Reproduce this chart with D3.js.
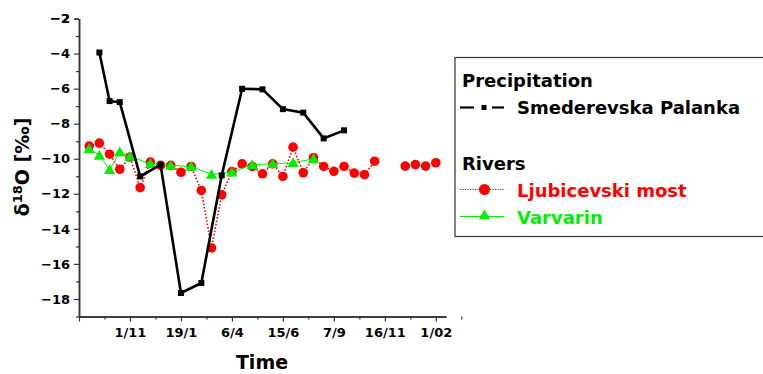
<!DOCTYPE html>
<html>
<head>
<meta charset="utf-8">
<script src="https://cdn.jsdelivr.net/npm/d3@7"></script>
<style>
  body { margin: 0; background: #fff; }
  svg { display: block; }
  text { font-family: "DejaVu Sans", sans-serif; font-weight: bold; }
</style>
</head>
<body>
<script>
// x is in months from the first tick (sampling was roughly twice a month)
var precipX = [1, 1.5, 2, 3, 4, 5, 6, 7, 8, 9, 10, 11, 12, 13]
var precipY = [-3.94, -6.71, -6.77, -11.01, -10.34, -17.66, -17.09, -10.95, -6.01, -6.04, -7.17, -7.37, -8.84, -8.38]

var ljubX = [0.5, 1, 1.5, 2, 2.5, 3, 3.5, 4, 4.5, 5, 5.5, 6, 6.5, 7, 7.5, 8, 8.5, 9, 9.5, 10, 10.5, 11, 11.5, 12, 12.5, 13, 13.5, 14, 14.5, 15, 16, 16.5, 17, 17.5]
var ljubY = [-9.28, -9.11, -9.74, -10.6, -9.9, -11.65, -10.19, -10.38, -10.38, -10.77, -10.44, -11.81, -15.09, -12.06, -10.73, -10.29, -10.44, -10.86, -10.29, -11.01, -9.34, -10.8, -9.94, -10.44, -10.72, -10.44, -10.82, -10.91, -10.14, null, -10.42, -10.33, -10.42, -10.23]

var varvX = [0.5, 1, 1.5, 2, 2.5, 3.5, 4.5, 5.5, 6.5, 7.5, 8.5, 9.5, 10.5, 11.5]
var varvY = [-9.43, -9.81, -10.63, -9.62, -9.87, -10.29, -10.38, -10.44, -10.9, -10.77, -10.34, -10.29, -10.23, -10.0]

var tickPos = [0, 2.5, 5, 7.5, 10, 12.5, 15, 17.5]
var tickLabels = ['', '1/11', '19/1', '6/4', '15/6', '7/9', '16/11', '1/02']

var width = 763
var height = 374

var x = d3.scaleLinear().domain([0, 18]).range([79, 446])
var y = d3.scaleLinear().domain([-19, -2]).range([316.5, 18.5])

var svg = d3.select('body').append('svg').attr('width', width).attr('height', height)

// axes: major + minor ticks
var yMajor = d3.range(-18, -1, 2)
var yMinor = d3.range(-19, -2, 2)

svg.append('g')
  .attr('transform', 'translate(79,0)')
  .call(d3.axisLeft(y).tickValues(yMinor).tickSize(3).tickFormat('').tickSizeOuter(0))
svg.append('g')
  .attr('class', 'axis y')
  .attr('transform', 'translate(79,0)')
  .call(d3.axisLeft(y).tickValues(yMajor.concat([-2])).tickSize(5).tickPadding(4).tickSizeOuter(0))

var xMinor = tickPos.map(d => d + 1.25)
svg.append('g')
  .attr('transform', 'translate(0,316.5)')
  .call(d3.axisBottom(x).tickValues(xMinor).tickSize(3).tickFormat('').tickSizeOuter(0))
svg.append('g')
  .attr('class', 'axis x')
  .attr('transform', 'translate(0,316.5)')
  .call(d3.axisBottom(x).tickValues(tickPos).tickSize(5).tickPadding(6.5).tickSizeOuter(0)
    .tickFormat((d, i) => tickLabels[i]))

svg.selectAll('.domain').attr('stroke', '#333').attr('stroke-width', 1.5)
svg.selectAll('.tick line').attr('stroke', '#333').attr('stroke-width', 1.2)
svg.selectAll('.tick text').attr('font-size', 13).attr('font-family', '"DejaVu Sans", sans-serif')
  .attr('font-weight', 'bold').attr('fill', '#000')

// axis titles
svg.append('text')
  .attr('transform', 'translate(29,167) rotate(-90)')
  .attr('text-anchor', 'middle')
  .attr('font-size', 19)
  .html('δ<tspan font-size="13" dy="-7">18</tspan><tspan dy="7">O [‰]</tspan>')

svg.append('text')
  .attr('x', 262).attr('y', 369)
  .attr('text-anchor', 'middle')
  .attr('font-size', 19)
  .text('Time')

var line = d3.line()
  .defined(d => d[1] != null)
  .x(d => x(d[0]))
  .y(d => y(d[1]))

var ljub = ljubX.map((d, i) => [d, ljubY[i]])
var varv = varvX.map((d, i) => [d, varvY[i]])
var precip = precipX.map((d, i) => [d, precipY[i]])

// Ljubicevski most (red, dotted)
svg.append('path').attr('d', line(ljub))
  .attr('fill', 'none').attr('stroke', '#ff0000').attr('stroke-width', 1.6).attr('stroke-dasharray', '1.6,1.8')
svg.append('g').selectAll('circle').data(ljub.filter(d => d[1] != null)).join('circle')
  .attr('cx', d => x(d[0])).attr('cy', d => y(d[1])).attr('r', 4.8).attr('fill', '#ff0000')

// Varvarin (green)
var tri = d3.symbol().type(d3.symbolTriangle).size(55)
svg.append('path').attr('d', line(varv))
  .attr('fill', 'none').attr('stroke', '#00ee00').attr('stroke-width', 1)
svg.append('g').selectAll('path').data(varv).join('path')
  .attr('transform', d => `translate(${x(d[0])},${y(d[1]) + 1})`)
  .attr('d', tri).attr('fill', '#00ee00')

// Smederevska Palanka (black)
svg.append('path').attr('d', line(precip))
  .attr('fill', 'none').attr('stroke', '#000').attr('stroke-width', 2.6)
svg.append('g').selectAll('rect').data(precip).join('rect')
  .attr('x', d => x(d[0]) - 3).attr('y', d => y(d[1]) - 3)
  .attr('width', 6).attr('height', 6).attr('fill', '#000')

// legend
var lg = svg.append('g')
lg.append('rect').attr('x', 455).attr('y', 57.5).attr('width', 320).attr('height', 179)
  .attr('fill', 'none').attr('stroke', '#333').attr('stroke-width', 1.2)

lg.append('text').attr('x', 462).attr('y', 87).attr('font-size', 18).text('Precipitation')
lg.append('line').attr('x1', 460).attr('x2', 474).attr('y1', 107.5).attr('y2', 107.5).attr('stroke', '#000').attr('stroke-width', 2.2)
lg.append('line').attr('x1', 492).attr('x2', 504).attr('y1', 107.5).attr('y2', 107.5).attr('stroke', '#000').attr('stroke-width', 2.2)
lg.append('rect').attr('x', 481.5).attr('y', 105).attr('width', 5).attr('height', 5).attr('fill', '#000')
lg.append('text').attr('x', 517).attr('y', 114).attr('font-size', 18).text('Smederevska Palanka')

lg.append('text').attr('x', 462).attr('y', 170).attr('font-size', 18).text('Rivers')
lg.append('line').attr('x1', 460).attr('x2', 504).attr('y1', 189.5).attr('y2', 189.5)
  .attr('stroke', '#ff0000').attr('stroke-width', 1.2).attr('stroke-dasharray', '1.2,1.3')
lg.append('circle').attr('cx', 484.5).attr('cy', 189.5).attr('r', 5.5).attr('fill', '#ff0000')
lg.append('text').attr('x', 517).attr('y', 197).attr('font-size', 18).attr('fill', '#ff0000').text('Ljubicevski most')

lg.append('line').attr('x1', 460).attr('x2', 504).attr('y1', 216.5).attr('y2', 216.5)
  .attr('stroke', '#00ee00').attr('stroke-width', 1)
lg.append('path').attr('transform', 'translate(484.5,216)').attr('d', tri).attr('fill', '#00ee00')
lg.append('text').attr('x', 517).attr('y', 224).attr('font-size', 18).attr('fill', '#00ee00').text('Varvarin')
</script>
</body>
</html>
